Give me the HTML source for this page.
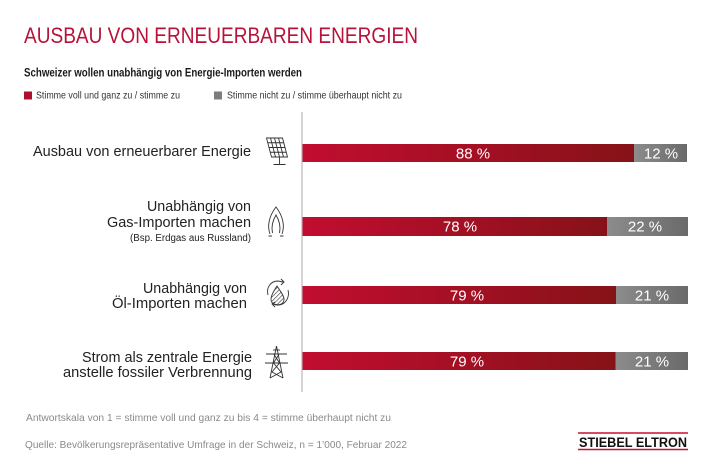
<!DOCTYPE html>
<html><head><meta charset="utf-8"><style>
html,body{margin:0;padding:0;background:#fff;}
svg{display:block;}
text{font-family:"Liberation Sans",sans-serif;}
</style></head><body>
<svg width="710" height="473" viewBox="0 0 710 473" xmlns="http://www.w3.org/2000/svg">
<defs>
<linearGradient id="red" x1="0" x2="1" y1="0" y2="0">
<stop offset="0" stop-color="#c20d30"/><stop offset="1" stop-color="#861218"/>
</linearGradient>
<linearGradient id="gray" x1="0" x2="1" y1="0" y2="0">
<stop offset="0" stop-color="#8c8c8c"/><stop offset="1" stop-color="#6a6a6a"/>
</linearGradient>
<pattern id="hatch" width="3" height="3" patternUnits="userSpaceOnUse" patternTransform="rotate(45)">
<line x1="0" y1="0" x2="0" y2="3" stroke="#333" stroke-width="1.2"/>
</pattern>
</defs>
<rect width="710" height="473" fill="#fff"/>

<!-- Title -->
<text x="24" y="43" font-size="22.5" fill="#b8123a" textLength="394" lengthAdjust="spacingAndGlyphs">AUSBAU VON ERNEUERBAREN ENERGIEN</text>
<text x="24" y="76.5" font-size="12" font-weight="bold" fill="#1a1a1a" textLength="278" lengthAdjust="spacingAndGlyphs">Schweizer wollen unabhängig von Energie-Importen werden</text>

<!-- Legend -->
<rect x="24" y="91.5" width="8" height="8" fill="#b0102f"/>
<text x="36" y="98.5" font-size="10" fill="#333" textLength="144" lengthAdjust="spacingAndGlyphs">Stimme voll und ganz zu / stimme zu</text>
<rect x="214" y="91.5" width="8" height="8" fill="#7d7d7d"/>
<text x="227" y="98.5" font-size="10" fill="#333" textLength="175" lengthAdjust="spacingAndGlyphs">Stimme nicht zu / stimme überhaupt nicht zu</text>

<!-- Axis -->
<line x1="302" y1="112" x2="302" y2="392" stroke="#bdbdbd" stroke-width="1.3"/>

<!-- Bars -->
<rect x="302.5" y="144" width="331.5" height="18" fill="url(#red)"/>
<rect x="634" y="144" width="53" height="18" fill="url(#gray)"/>
<text x="473" y="158.5" font-size="15" fill="#fff" text-anchor="middle">88 %</text>
<text x="661" y="158.5" font-size="15" fill="#fff" text-anchor="middle">12 %</text>

<rect x="302.5" y="217" width="304.5" height="19" fill="url(#red)"/>
<rect x="607" y="217" width="81" height="19" fill="url(#gray)"/>
<text x="460" y="231.5" font-size="15" fill="#fff" text-anchor="middle">78 %</text>
<text x="645" y="231.5" font-size="15" fill="#fff" text-anchor="middle">22 %</text>

<rect x="302.5" y="286" width="313.5" height="18" fill="url(#red)"/>
<rect x="616" y="286" width="72" height="18" fill="url(#gray)"/>
<text x="467" y="300.5" font-size="15" fill="#fff" text-anchor="middle">79 %</text>
<text x="652" y="300.5" font-size="15" fill="#fff" text-anchor="middle">21 %</text>

<rect x="302.5" y="352" width="313" height="18" fill="url(#red)"/>
<rect x="615.5" y="352" width="72.5" height="18" fill="url(#gray)"/>
<text x="467" y="366.5" font-size="15" fill="#fff" text-anchor="middle">79 %</text>
<text x="652" y="366.5" font-size="15" fill="#fff" text-anchor="middle">21 %</text>

<!-- Category labels -->
<g fill="#222" text-anchor="end" font-size="14.5">
<text x="251" y="156" textLength="218" lengthAdjust="spacingAndGlyphs">Ausbau von erneuerbarer Energie</text>
<text x="251" y="211" textLength="104" lengthAdjust="spacingAndGlyphs">Unabhängig von</text>
<text x="251" y="227" textLength="144" lengthAdjust="spacingAndGlyphs">Gas-Importen machen</text>
<text x="251" y="241" font-size="10" textLength="121" lengthAdjust="spacingAndGlyphs">(Bsp. Erdgas aus Russland)</text>
<text x="247" y="293" textLength="104" lengthAdjust="spacingAndGlyphs">Unabhängig von</text>
<text x="247" y="308" textLength="135" lengthAdjust="spacingAndGlyphs">Öl-Importen machen</text>
<text x="252" y="362" textLength="170" lengthAdjust="spacingAndGlyphs">Strom als zentrale Energie</text>
<text x="252" y="377" textLength="189" lengthAdjust="spacingAndGlyphs">anstelle fossiler Verbrennung</text>
</g>

<!-- Icons -->
<g fill="none" stroke="#333" stroke-width="0.9">
<!-- solar -->
<path d="M266.5 138 L282.5 138 L287.5 157 L271.5 157 Z"/>
<path d="M270.5 138 L275.5 157 M274.5 138 L279.5 157 M278.5 138 L283.5 157"/>
<path d="M267.7 142.75 L283.7 142.75 M269 147.5 L285 147.5 M270.2 152.25 L286.2 152.25"/>
<path d="M279.5 157 L279.5 164.5 M273.5 164.5 L285.5 164.5"/>
<!-- gas flame -->
<path d="M270 234 C267 226 269 216 276 207 C283 216 285 226 282 234"/>
<path d="M272.5 233 C271 226 273 220 276 215 C279 220 281 226 279.5 233"/>
<path d="M268.5 236 L272 236 M280 236 L283.5 236"/>
<!-- oil -->
<path d="M268 295 C266 287 271 281 278 281 L283 282"/>
<path d="M281 279 L284 282 L281 285"/>
<path d="M288 290 C290 298 285 305 278 305 L273 304"/>
<path d="M275 302 L272 304 L275 307"/>
<path d="M277 286 C273 292 271 296 271 299 C271 303 274 305 277.5 305 C281 305 284 303 284 299 C284 296 281 292 277 286 Z" fill="url(#hatch)"/>
<!-- pylon -->
<path d="M276.5 346 L270 378 M276.5 346 L283 378"/>
<path d="M266 354 L287 354 M265 363 L288 363"/>
<path d="M273.8 354 L279.5 363 L272 372 L283 378 M279.2 354 L273.5 363 L281 372 L270 378"/>
<path d="M273 350 L280 350"/>
</g>

<!-- Footer -->
<text x="26" y="421" font-size="10.5" fill="#8a8a8a" textLength="365" lengthAdjust="spacingAndGlyphs">Antwortskala von 1 = stimme voll und ganz zu bis 4 = stimme überhaupt nicht zu</text>
<text x="25" y="448" font-size="10.5" fill="#8a8a8a" textLength="382" lengthAdjust="spacingAndGlyphs">Quelle: Bevölkerungsrepräsentative Umfrage in der Schweiz, n = 1’000, Februar 2022</text>

<!-- Logo -->
<line x1="578" y1="433" x2="688" y2="433" stroke="#c8102e" stroke-width="1.6"/>
<line x1="578" y1="449.5" x2="688" y2="449.5" stroke="#c8102e" stroke-width="1.6"/>
<text x="579" y="447" font-size="13.5" font-weight="bold" fill="#111" textLength="108" lengthAdjust="spacingAndGlyphs">STIEBEL ELTRON</text>
</svg>
</body></html>
